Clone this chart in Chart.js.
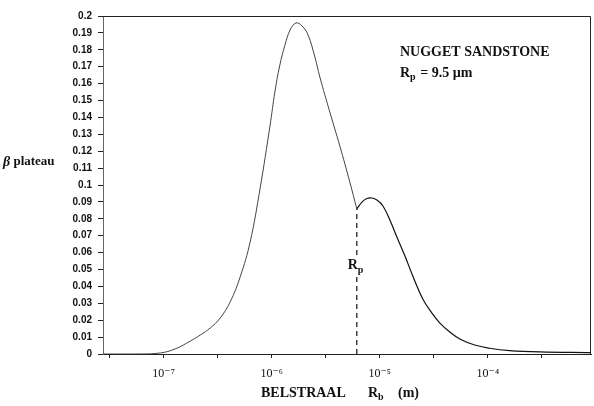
<!DOCTYPE html>
<html>
<head>
<meta charset="utf-8">
<script src="https://cdn.jsdelivr.net/npm/chart.js@4.4.1/dist/chart.umd.min.js"></script>
<style>
  html, body { margin: 0; padding: 0; background: #fff; }
  #wrap { width: 594px; height: 406px; }
</style>
</head>
<body>
<div id="wrap"><canvas id="betaChart"></canvas></div>
<script>
// bubble radius Rb (m) and beta plateau
var rbLeft   = [2.75e-8, 6.1e-8, 9.32e-8, 1.28e-7, 1.77e-7, 2.18e-7, 2.7e-7, 3.34e-7, 4.13e-7, 5.11e-7, 6.32e-7, 7.82e-7, 9.67e-7, 1.07e-6, 1.19e-6, 1.33e-6, 1.48e-6, 1.68e-6, 1.91e-6, 2.17e-6, 2.51e-6, 2.79e-6, 3.45e-6, 4.27e-6, 5.28e-6, 6.13e-6];
var betaLeft = [0, 0, 0.0006, 0.0030, 0.0077, 0.0112, 0.0154, 0.0213, 0.0308, 0.0456, 0.0663, 0.0982, 0.1355, 0.155, 0.171, 0.183, 0.1917, 0.1959, 0.1941, 0.1888, 0.1757, 0.1639, 0.1432, 0.1231, 0.1018, 0.0858];

var rbRight   = [6.13e-6, 6.84e-6, 7.6e-6, 8.45e-6, 9.41e-6, 1.07e-5, 1.24e-5, 1.44e-5, 1.71e-5, 2.02e-5, 2.5e-5, 3.03e-5, 3.6e-5, 4.45e-5, 5.5e-5, 7.56e-5, 1.04e-4, 1.59e-4, 3.01e-4, 9.0e-4];
var betaRight = [0.0858, 0.0899, 0.0920, 0.0923, 0.0911, 0.0876, 0.0793, 0.0692, 0.0580, 0.0462, 0.0325, 0.0243, 0.0183, 0.0130, 0.0089, 0.0053, 0.0034, 0.0020, 0.0012, 0.0008];

// position of the Rp marker
var rpX = [6.13e-6, 6.13e-6];
var rpY = [0, 0.0858];

var xTicks = [3.16e-8, 1e-7, 3.16e-7, 1e-6, 3.16e-6, 1e-5, 3.16e-5, 1e-4, 3.16e-4];
var xTickLabels = {'1e-7': '10\u207B\u2077', '0.000001': '10\u207B\u2076', '0.00001': '10\u207B\u2075', '0.0001': '10\u207B\u2074'};

function pts(xs, ys) {
  return xs.map(function (x, i) { return {x: x, y: ys[i]}; });
}

var serif = '"Liberation Serif", "DejaVu Serif", serif';

var textPlugin = {
  id: 'texts',
  afterDraw: function (chart) {
    var ctx = chart.ctx;
    var a = chart.chartArea;
    ctx.save();
    // frame
    ctx.strokeStyle = '#222';
    ctx.lineWidth = 1;
    ctx.beginPath();
    ctx.moveTo(a.left, a.top + 0.5);
    ctx.lineTo(a.right - 0.5, a.top + 0.5);
    ctx.lineTo(a.right - 0.5, a.bottom);
    ctx.stroke();

    ctx.fillStyle = '#111';
    ctx.textBaseline = 'middle';

    // y title
    ctx.font = 'italic bold 14px ' + serif;
    ctx.fillText('\u03B2', 3, 162);
    var w = ctx.measureText('\u03B2').width;
    ctx.font = 'bold 13px ' + serif;
    ctx.fillText(' plateau', 3 + w, 162);

    // box text
    ctx.font = 'bold 14px ' + serif;
    ctx.fillText('NUGGET SANDSTONE', 400, 52);
    ctx.fillText('R', 400, 73);
    var rw = ctx.measureText('R').width;
    ctx.font = 'bold 10px ' + serif;
    ctx.fillText('p', 400 + rw, 77);
    var pw = ctx.measureText('p').width;
    ctx.font = 'bold 14px ' + serif;
    ctx.fillText(' = 9.5 \u00B5m', 400 + rw + pw + 1, 73);

    // Rp label on dashed line
    var xs = chart.scales.x;
    var px = xs.getPixelForValue(rpX[0]);
    ctx.fillStyle = '#fff';
    ctx.fillRect(px - 10, 258, 20, 18);
    ctx.fillStyle = '#111';
    ctx.font = 'bold 14px ' + serif;
    ctx.fillText('R', px - 9, 265);
    ctx.font = 'bold 10px ' + serif;
    ctx.fillText('p', px + 1, 270);

    // x title
    ctx.font = 'bold 14px ' + serif;
    ctx.fillText('BELSTRAAL', 261, 393);
    ctx.fillText('R', 368, 393);
    ctx.font = 'bold 10px ' + serif;
    ctx.fillText('b', 378, 397);
    ctx.font = 'bold 14px ' + serif;
    ctx.fillText('(m)', 398, 393);
    ctx.restore();
  }
};

new Chart(document.getElementById('betaChart').getContext('2d'), {
  type: 'line',
  data: {
    datasets: [
      {
        data: pts(rbLeft, betaLeft),
        borderColor: '#444',
        borderWidth: 1,
        pointRadius: 0,
        tension: 0.4
      },
      {
        data: pts(rbRight, betaRight),
        borderColor: '#111',
        borderWidth: 1.2,
        pointRadius: 0,
        tension: 0.4
      },
      {
        data: pts(rpX, rpY),
        borderColor: '#111',
        borderWidth: 1.2,
        borderDash: [5, 4],
        pointRadius: 0
      }
    ]
  },
  options: {
    responsive: true,
    maintainAspectRatio: false,
    animation: false,
    layout: { padding: { top: 16, right: 3, left: 0, bottom: 0 } },
    plugins: { legend: { display: false }, tooltip: { enabled: false } },
    scales: {
      x: {
        type: 'logarithmic',
        min: 2.75e-8,
        max: 9e-4,
        afterBuildTicks: function (s) {
          s.ticks = xTicks.map(function (v) { return {value: v}; });
        },
        afterFit: function (s) { s.height = 52; },
        border: { color: '#222', width: 1 },
        grid: { drawOnChartArea: false, tickLength: 4, color: '#222' },
        ticks: {
          autoSkip: false,
          maxRotation: 0,
          padding: 9,
          color: '#111',
          font: { family: serif, size: 12 },
          callback: function (v) { return xTickLabels[String(v)] || ''; }
        }
      },
      y: {
        min: 0,
        max: 0.2,
        afterFit: function (s) { s.width = 103; },
        border: { color: '#666', width: 1 },
        grid: { drawOnChartArea: false, tickLength: 5, color: '#222' },
        ticks: {
          stepSize: 0.01,
          autoSkip: false,
          padding: 6,
          color: '#111',
          font: { family: '"Liberation Sans", Arial, sans-serif', size: 10, weight: 'bold' },
          callback: function (v) { return String(+v.toFixed(2)); }
        }
      }
    }
  },
  plugins: [textPlugin]
});
</script>
</body>
</html>
